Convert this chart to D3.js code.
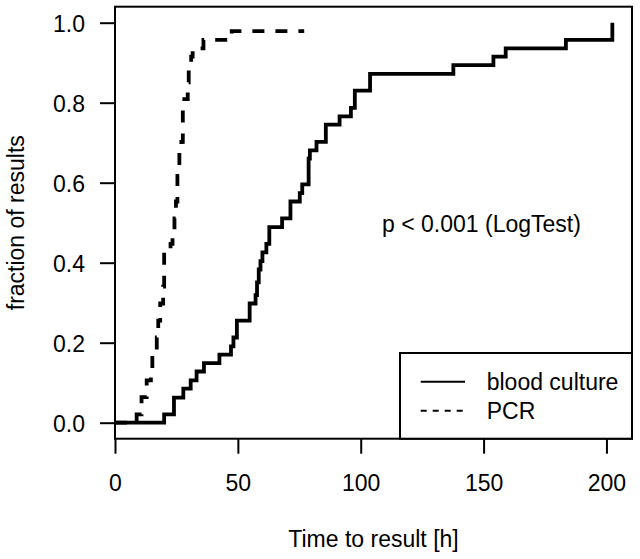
<!DOCTYPE html>
<html>
<head>
<meta charset="utf-8">
<script src="https://cdn.jsdelivr.net/npm/d3@7"></script>
<style>
body { margin: 0; background: #fff; }
text { font-family: "Liberation Sans", Arial, sans-serif; fill: #000; }
</style>
</head>
<body>
<div id="chart"></div>
<script>
// step curves: time of each step [h] and fraction after it
var bcTimes = [0, 20, 24, 27.8, 30.8, 33.2, 36.2, 42.5, 47.2, 48.2, 49.6, 54.8, 57.2, 57.8, 58.5, 59.2, 60, 61.6, 62.8, 68,
	71.4, 75.2, 76.2, 78.8, 79.3, 82, 85.8, 91.4, 96, 97.6, 103.8, 137.7, 154, 159, 183.5, 202.4];
var bcFrac = [0, 0.021, 0.0625, 0.085, 0.106, 0.128, 0.149, 0.170, 0.191, 0.213, 0.255, 0.298, 0.319, 0.351, 0.383, 0.404, 0.426, 0.447, 0.489, 0.511,
	0.553, 0.574, 0.596, 0.66, 0.681, 0.702, 0.745, 0.766, 0.787, 0.830, 0.872, 0.894, 0.915, 0.936, 0.957, 1.0];

var pcrTimes = [0, 8.8, 10.8, 12.9, 14.6, 15.2, 17.0, 17.6, 18.4, 19.6, 20.0, 22.6, 23.4, 24.2, 24.8, 25.4, 26.2, 27.0, 27.6, 28.2,
	29.6, 30.0, 31.0, 31.6, 36.0, 47.5, 77];
var pcrFrac = [0, 0.021, 0.064, 0.106, 0.128, 0.170, 0.213, 0.255, 0.298, 0.340, 0.426, 0.447, 0.468, 0.511, 0.553, 0.617, 0.681, 0.702, 0.787, 0.809,
	0.851, 0.894, 0.915, 0.936, 0.957, 0.979, 0.979];

var xTicks = [0, 50, 100, 150, 200];
var yTicks = [0, 0.2, 0.4, 0.6, 0.8, 1.0];
var seriesNames = ["blood culture", "PCR"];
var annotation = "p < 0.001 (LogTest)";

var W = 640, H = 559;
// plot region (window.top is reserved, so no plain "top")
var pLeft = 115, pRight = 632, pTop = 6.7, pBottom = 438.7;

var svg = d3.select("#chart").append("svg")
	.attr("width", W)
	.attr("height", H);

var x = d3.scaleLinear().domain([0, 210.4]).range([pLeft, pRight]);
var y = d3.scaleLinear().domain([-0.04, 1.04]).range([pBottom, pTop]);

var fs = 23;

// x axis
var gx = svg.append("g")
	.attr("transform", "translate(0," + pBottom + ")")
	.call(d3.axisBottom(x).tickValues(xTicks).tickSize(15).tickSizeOuter(0).tickFormat(d3.format("d")));
gx.select(".domain").remove();
gx.selectAll(".tick line").attr("stroke", "#000").attr("stroke-width", 2);
gx.selectAll(".tick text")
	.attr("y", 52).attr("dy", null)
	.style("font-size", fs + "px")
	.style("font-family", "'Liberation Sans', Arial, sans-serif");

// y axis
var gy = svg.append("g")
	.attr("transform", "translate(" + pLeft + ",0)")
	.call(d3.axisLeft(y).tickValues(yTicks).tickSize(15).tickSizeOuter(0).tickFormat(d3.format(".1f")));
gy.select(".domain").remove();
gy.selectAll(".tick line").attr("stroke", "#000").attr("stroke-width", 2);
gy.selectAll(".tick text")
	.attr("x", -30).attr("dy", null)
	.attr("y", 9)
	.style("font-size", fs + "px")
	.style("font-family", "'Liberation Sans', Arial, sans-serif");

// axis titles
svg.append("text")
	.attr("x", (pLeft + pRight) / 2)
	.attr("y", 547)
	.attr("text-anchor", "middle")
	.style("font-size", fs + "px")
	.text("Time to result [h]");

svg.append("text")
	.attr("transform", "translate(24," + ((pTop + pBottom) / 2) + ") rotate(-90)")
	.attr("text-anchor", "middle")
	.style("font-size", fs + "px")
	.text("fraction of results");

// curves
var line = d3.line()
	.x(function(d){ return x(d[0]); })
	.y(function(d){ return y(d[1]); })
	.curve(d3.curveStepAfter);

svg.append("path")
	.datum(d3.zip(pcrTimes, pcrFrac))
	.attr("d", line)
	.attr("fill", "none")
	.attr("stroke", "#000")
	.attr("stroke-width", 3.8)
	.attr("stroke-dasharray", "12,11");

svg.append("path")
	.datum(d3.zip(bcTimes, bcFrac))
	.attr("d", line)
	.attr("fill", "none")
	.attr("stroke", "#000")
	.attr("stroke-width", 3.8);

// plot box
svg.append("rect")
	.attr("x", pLeft)
	.attr("y", pTop)
	.attr("width", pRight - pLeft)
	.attr("height", pBottom - pTop)
	.attr("fill", "none")
	.attr("stroke", "#000")
	.attr("stroke-width", 2);

// p value text
svg.append("text")
	.attr("x", 481.5)
	.attr("y", 232)
	.attr("text-anchor", "middle")
	.style("font-size", fs + "px")
	.text(annotation);

// legend
var lg = svg.append("g");
lg.append("rect")
	.attr("x", 400)
	.attr("y", 353)
	.attr("width", pRight - 400)
	.attr("height", pBottom - 353)
	.attr("fill", "#fff")
	.attr("stroke", "#000")
	.attr("stroke-width", 2);

var items = lg.selectAll("g.item")
	.data(seriesNames)
	.enter().append("g")
	.attr("class", "item")
	.attr("transform", function(d, i){ return "translate(0," + (381.7 + i * 29) + ")"; });

items.append("line")
	.attr("x1", 420.7)
	.attr("x2", 465)
	.attr("y1", 0)
	.attr("y2", 0)
	.attr("stroke", "#000")
	.attr("stroke-width", 2)
	.attr("stroke-dasharray", function(d, i){ return i == 1 ? "6,6" : null; });

items.append("text")
	.attr("x", 486.7)
	.attr("y", 8.3)
	.style("font-size", fs + "px")
	.text(function(d){ return d; });
</script>
</body>
</html>
